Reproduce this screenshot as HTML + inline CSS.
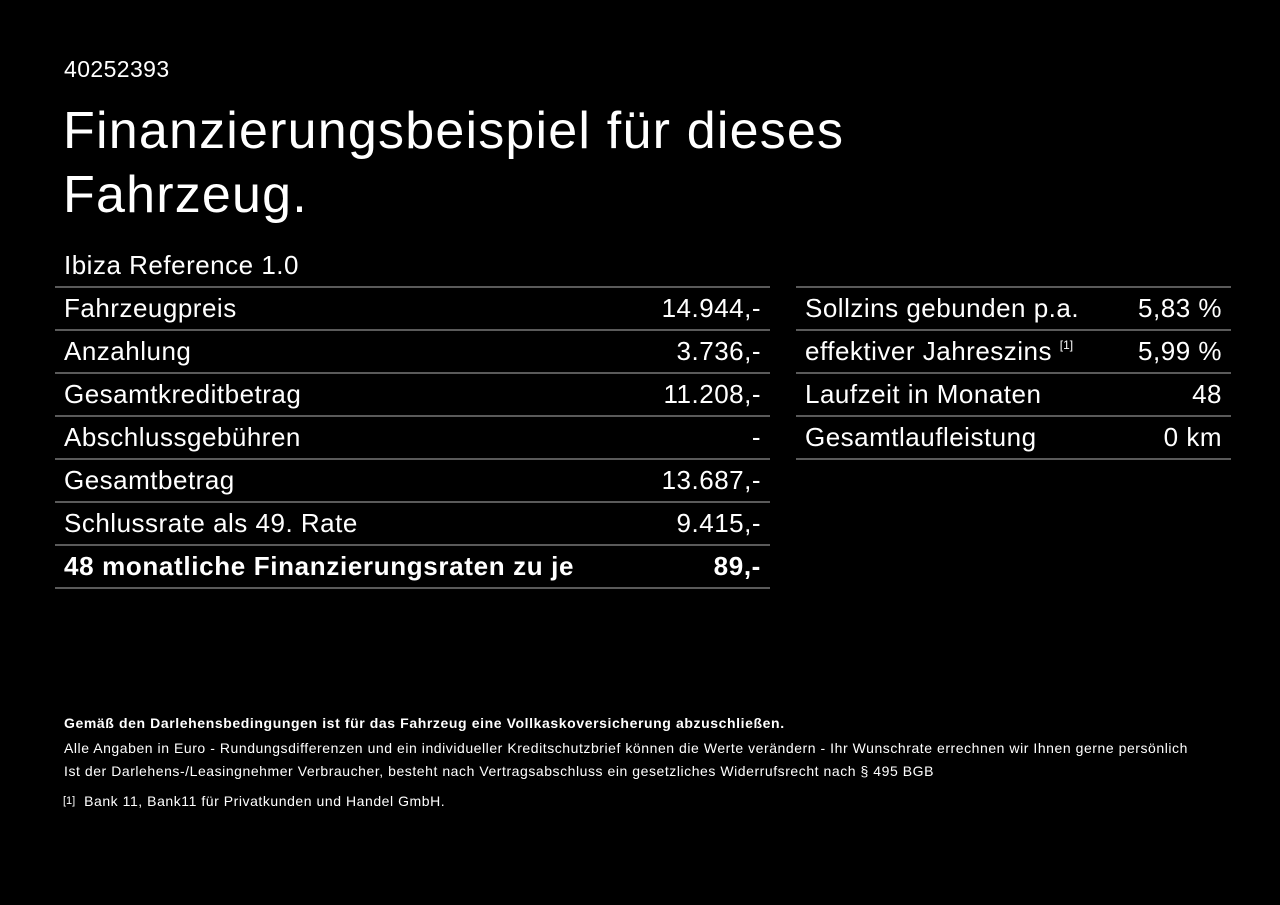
<!DOCTYPE html>
<html><head><meta charset="utf-8"><style>
body{margin:0;width:1280px;height:905px;background:#000;color:#fff;font-family:"Liberation Sans",Arial,sans-serif;position:relative;overflow:hidden}
.a{position:absolute;white-space:nowrap}
.line{position:absolute;height:2px;background:#5a5a5a}
.row{position:absolute;font-size:26px;letter-spacing:0.5px;line-height:43px;height:43px}
.r{position:absolute;right:0;top:0}
.s{font-size:12px;line-height:12px;display:inline-block;transform:translateY(-11px);letter-spacing:0}
.f{font-size:14px;letter-spacing:0.55px}
</style></head><body>
<div class="a" style="left:64px;top:56px;font-size:23px;letter-spacing:0.4px">40252393</div>
<div class="a" style="left:63px;top:99px;font-size:52px;letter-spacing:1.2px;line-height:64px">Finanzierungsbeispiel für dieses<br>Fahrzeug.</div>
<div class="a" style="left:64px;top:250px;font-size:26px;letter-spacing:0.5px">Ibiza Reference 1.0</div>

<div class="line" style="left:55px;width:715px;top:286px"></div>
<div class="row" style="left:64px;width:697px;top:287px">Fahrzeugpreis<span class="r">14.944,-</span></div>
<div class="line" style="left:55px;width:715px;top:329px"></div>
<div class="row" style="left:64px;width:697px;top:330px">Anzahlung<span class="r">3.736,-</span></div>
<div class="line" style="left:55px;width:715px;top:372px"></div>
<div class="row" style="left:64px;width:697px;top:373px">Gesamtkreditbetrag<span class="r">11.208,-</span></div>
<div class="line" style="left:55px;width:715px;top:415px"></div>
<div class="row" style="left:64px;width:697px;top:416px">Abschlussgebühren<span class="r">-</span></div>
<div class="line" style="left:55px;width:715px;top:458px"></div>
<div class="row" style="left:64px;width:697px;top:459px">Gesamtbetrag<span class="r">13.687,-</span></div>
<div class="line" style="left:55px;width:715px;top:501px"></div>
<div class="row" style="left:64px;width:697px;top:502px">Schlussrate als 49. Rate<span class="r">9.415,-</span></div>
<div class="line" style="left:55px;width:715px;top:544px"></div>
<div class="row" style="left:64px;width:697px;top:545px;font-weight:bold;letter-spacing:0.65px">48 monatliche Finanzierungsraten zu je<span class="r">89,-</span></div>
<div class="line" style="left:55px;width:715px;top:587px"></div>

<div class="line" style="left:796px;width:435px;top:286px"></div>
<div class="row" style="left:805px;width:417px;top:287px">Sollzins gebunden p.a.<span class="r">5,83 %</span></div>
<div class="line" style="left:796px;width:435px;top:329px"></div>
<div class="row" style="left:805px;width:417px;top:330px">effektiver Jahreszins <span class="s">[1]</span><span class="r">5,99 %</span></div>
<div class="line" style="left:796px;width:435px;top:372px"></div>
<div class="row" style="left:805px;width:417px;top:373px">Laufzeit in Monaten<span class="r">48</span></div>
<div class="line" style="left:796px;width:435px;top:415px"></div>
<div class="row" style="left:805px;width:417px;top:416px">Gesamtlaufleistung<span class="r">0 km</span></div>
<div class="line" style="left:796px;width:435px;top:458px"></div>

<div class="a f" style="left:64px;top:715px;font-weight:bold;letter-spacing:0.6px">Gemäß den Darlehensbedingungen ist für das Fahrzeug eine Vollkaskoversicherung abzuschließen.</div>
<div class="a f" style="left:64px;top:740px">Alle Angaben in Euro - Rundungsdifferenzen und ein individueller Kreditschutzbrief können die Werte verändern - Ihr Wunschrate errechnen wir Ihnen gerne persönlich</div>
<div class="a f" style="left:64px;top:763px">Ist der Darlehens-/Leasingnehmer Verbraucher, besteht nach Vertragsabschluss ein gesetzliches Widerrufsrecht nach § 495 BGB</div>
<div class="a f" style="left:63px;top:793px"><span style="font-size:11px;position:relative;top:-2px;letter-spacing:0">[1]</span>&nbsp; Bank 11, Bank11 für Privatkunden und Handel GmbH.</div>
</body></html>
